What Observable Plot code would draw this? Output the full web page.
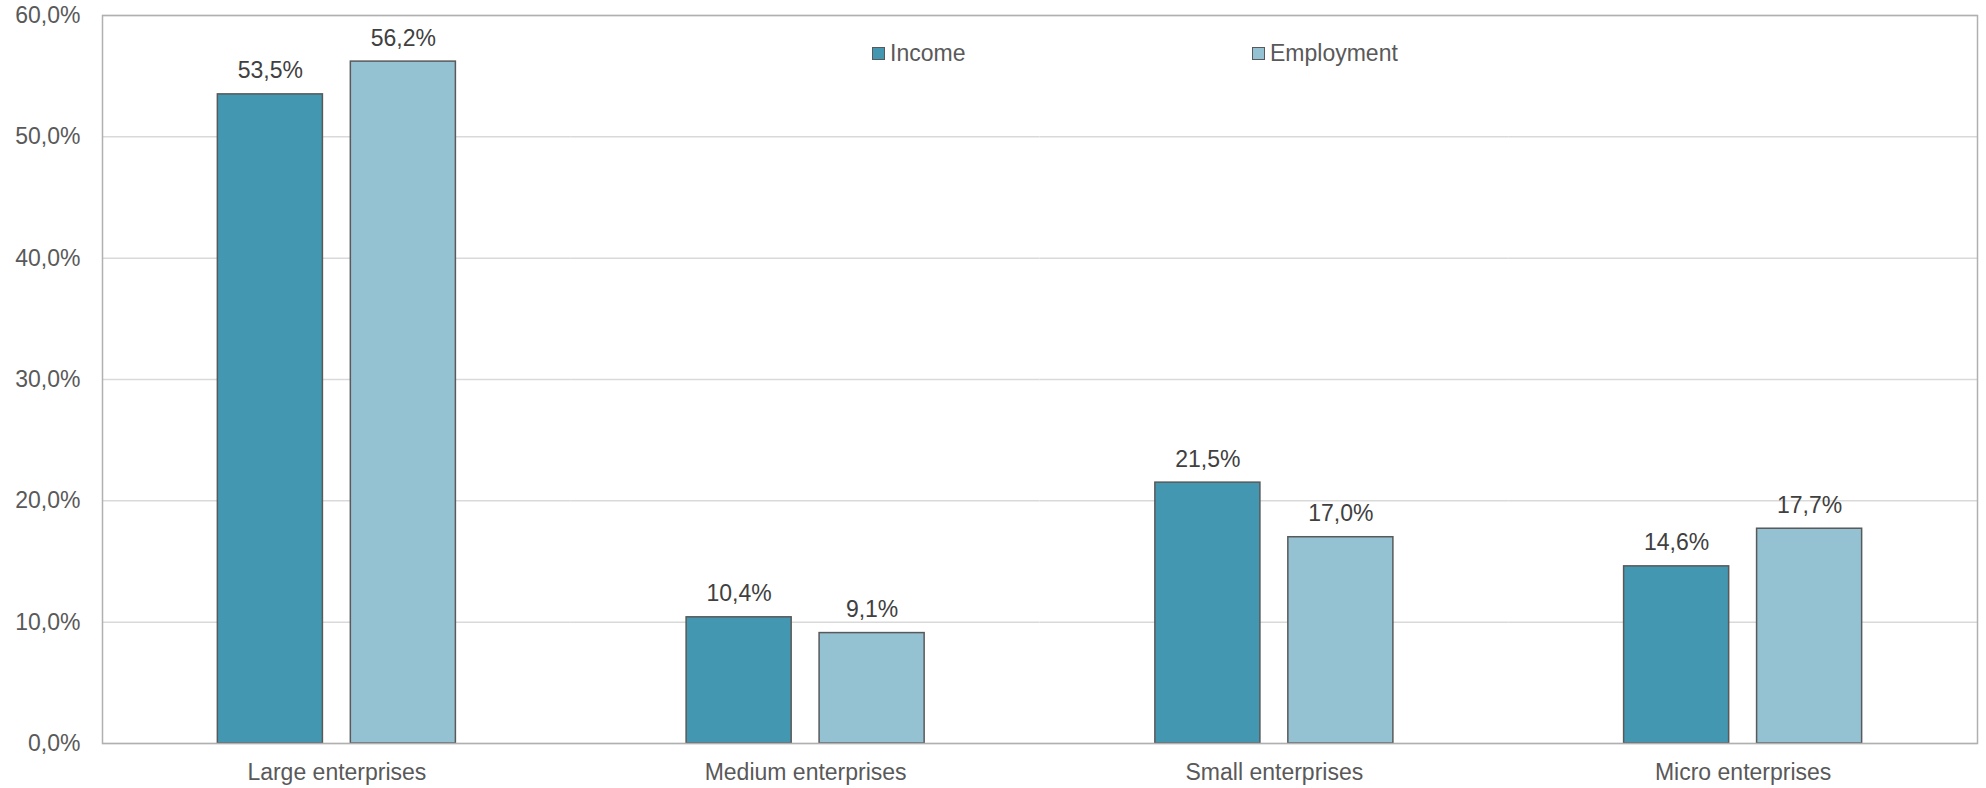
<!DOCTYPE html>
<html>
<head>
<meta charset="utf-8">
<script src="https://cdn.jsdelivr.net/npm/d3@7"></script>
<script src="https://cdn.jsdelivr.net/npm/@observablehq/plot@0.6"></script>
<style>
  html, body { margin: 0; padding: 0; background: #fff; }
  #wrap { position: relative; width: 1986px; height: 788px; font-family: "Liberation Sans", Arial, sans-serif; }
  .leg { position: absolute; display: flex; align-items: center; height: 24px; font-size: 23px; color: #595959; }
  .leg .sw { width: 11px; height: 11px; border: 1.5px solid #595959; margin-right: 5px; }
</style>
</head>
<body>
<div id="wrap"></div>
<script>
const categories = ["Large enterprises", "Medium enterprises", "Small enterprises", "Micro enterprises"];
const series = ["Income", "Employment"];
const incomeValues = [53.5, 10.4, 21.5, 14.6];
const employmentValues = [56.2, 9.1, 17.0, 17.7];
const yTicks = [0, 10, 20, 30, 40, 50, 60];
const seriesColors = ["#4397b0", "#94c2d3"];

const data = [];
categories.forEach((c, i) => {
  data.push({category: c, series: "Income", value: incomeValues[i]});
  data.push({category: c, series: "Employment", value: employmentValues[i]});
});
const fmt = v => v.toFixed(1).replace(".", ",") + "%";

const chart = Plot.plot({
  width: 1986,
  height: 788,
  marginLeft: 102,
  marginRight: 9,
  marginTop: 15,
  marginBottom: 45,
  style: {fontSize: "23px", fontFamily: "'Liberation Sans', Arial, sans-serif", background: "#fff"},
  fx: {domain: categories, padding: 0, label: null, round: false},
  x: {domain: series, paddingInner: 0.21, paddingOuter: 0.8675, axis: null, round: false},
  y: {domain: [0, 60], axis: null},
  color: {domain: series, range: seriesColors},
  marks: [
    Plot.gridY(yTicks, {stroke: "#d9d9d9", strokeOpacity: 1, strokeWidth: 1.5}),
    Plot.barY(data, {fx: "category", x: "series", y: "value", fill: "series", stroke: "#595959", strokeWidth: 1.5}),
    Plot.text(data, {fx: "category", x: "series", y: "value", text: d => fmt(d.value), lineAnchor: "bottom", dy: -16, fill: "#404040"}),
    Plot.frame({facet: "super", stroke: "#b0b0b0", strokeWidth: 1.5}),
    Plot.axisY(yTicks, {tickSize: 0, tickPadding: 22, tickFormat: fmt, fill: "#595959", label: null}),
    Plot.axisFx({anchor: "bottom", tickSize: 0, tickPadding: 20, fill: "#595959", label: null})
  ]
});

const wrap = document.getElementById("wrap");
wrap.appendChild(chart);
const legendPos = [872, 1252];
series.forEach((s, i) => {
  const item = document.createElement("div");
  item.className = "leg";
  item.style.left = legendPos[i] + "px";
  item.style.top = "41px";
  const sw = document.createElement("span");
  sw.className = "sw";
  sw.style.background = seriesColors[i];
  item.appendChild(sw);
  item.appendChild(document.createTextNode(s));
  wrap.appendChild(item);
});
</script>
</body>
</html>
